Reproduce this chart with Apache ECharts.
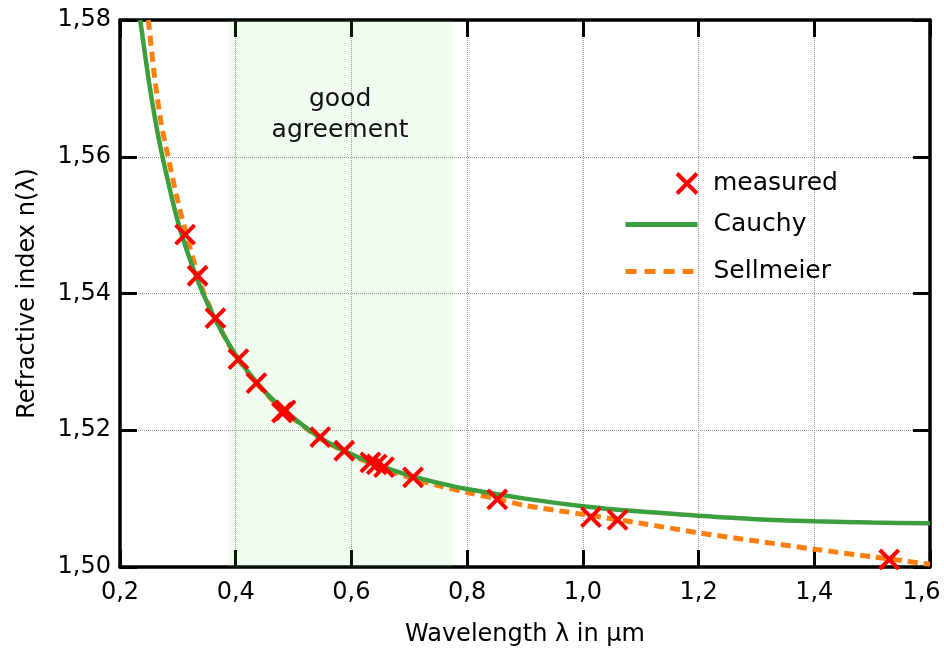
<!DOCTYPE html>
<html>
<head>
<meta charset="utf-8">
<script src="https://cdn.jsdelivr.net/npm/echarts@6/dist/echarts.min.js"></script>
<style>html,body{margin:0;padding:0;background:#fff;}#c{width:944px;height:655px;}</style>
</head>
<body>
<div id="c"></div>
<script>
// Tick labels
const xTickLabels = ['0,2', '0,4', '0,6', '0,8', '1,0', '1,2', '1,4', '1,6'];
const yTickLabels = ['1,50', '1,52', '1,54', '1,56', '1,58'];

// Measured data (wavelength in µm, refractive index)
const measuredWavelength = [0.3126, 0.3341, 0.3650, 0.4047, 0.4358, 0.4800, 0.4861, 0.5461, 0.5876, 0.6328, 0.6438, 0.6563, 0.7065, 0.8521, 1.0140, 1.0600, 1.5296];
const measuredIndex      = [1.5486, 1.5426, 1.5364, 1.5304, 1.5269, 1.5226, 1.5229, 1.5190, 1.5170, 1.5153, 1.5150, 1.5146, 1.5131, 1.5099, 1.5073, 1.5069, 1.5011];

// Cauchy fit curve
const cauchyWavelength = [0.235, 0.250, 0.265, 0.280, 0.300, 0.320, 0.340, 0.360, 0.380, 0.400, 0.430, 0.460, 0.500, 0.550, 0.600, 0.650, 0.700, 0.750, 0.800, 0.900, 1.000, 1.100, 1.200, 1.300, 1.400, 1.500, 1.600];
const cauchyIndex      = [1.5800, 1.5710, 1.5635, 1.5575, 1.5505, 1.5452, 1.5407, 1.5370, 1.5338, 1.5310, 1.5276, 1.5248, 1.5218, 1.5187, 1.5165, 1.5148, 1.5134, 1.5123, 1.5114, 1.5100, 1.5089, 1.5081, 1.5075, 1.5070, 1.5067, 1.5065, 1.5064];

// Sellmeier fit curve
const sellmeierWavelength = [0.249, 0.260, 0.270, 0.280, 0.300, 0.320, 0.340, 0.360, 0.380, 0.400, 0.430, 0.460, 0.500, 0.550, 0.600, 0.650, 0.700, 0.750, 0.800, 0.850, 0.900, 1.000, 1.100, 1.200, 1.300, 1.400, 1.500, 1.600];
const sellmeierIndex      = [1.5800, 1.5715, 1.5655, 1.5612, 1.5535, 1.5470, 1.5412, 1.5371, 1.5338, 1.5309, 1.5275, 1.5247, 1.5217, 1.5186, 1.5164, 1.5146, 1.5131, 1.5119, 1.5109, 1.5100, 1.5090, 1.5077, 1.5064, 1.5050, 1.5038, 1.5026, 1.5015, 1.5004];

// Region of good agreement
const agreementRange = [0.386, 0.775];

const FONT = 'DejaVu Sans';
const zip = (a, b) => a.map((v, i) => [v, b[i]]);

const chart = echarts.init(document.getElementById('c'), null, {renderer: 'canvas'});

const GREEN = '#3d9e3d', ORANGE = '#ff7f0e';
const tickStyle = {show: true, inside: true, length: 17, lineStyle: {color: '#000', width: 3}};
const lineAxis = {show: true, onZero: false, lineStyle: {color: '#000', width: 3.5}};
const markerStyle = {color: 'transparent', borderColor: '#ff0000', borderWidth: 4, opacity: 1};
const hiddenSymbol = {color: 'transparent', borderColor: 'transparent', borderWidth: 0, opacity: 0};

chart.setOption({
  animation: false,
  backgroundColor: '#fff',
  grid: {left: 120, right: 14, top: 20, bottom: 88, outerBoundsMode: 'none', containLabel: false},
  textStyle: {fontFamily: FONT},
  legend: [
    {
      data: [{name: 'measured', itemStyle: markerStyle}],
      orient: 'vertical',
      left: 675, top: 171,
      itemWidth: 20, itemHeight: 20,
      padding: 0,
      textStyle: {fontFamily: FONT, fontSize: 25, color: '#000', padding: [0, 0, 0, 11]}
    },
    {
      data: [
        {name: 'Cauchy', itemStyle: hiddenSymbol, lineStyle: {color: GREEN, width: 5}},
        {name: 'Sellmeier', itemStyle: hiddenSymbol, lineStyle: {color: ORANGE, width: 5, type: [11, 8]}}
      ],
      orient: 'vertical',
      left: 623, top: 212,
      itemWidth: 72, itemHeight: 20, itemGap: 22,
      padding: 0,
      textStyle: {fontFamily: FONT, fontSize: 25, color: '#000', padding: [0, 0, 0, 11]}
    }
  ],
  xAxis: [
    {
      type: 'value', min: 0.2, max: 1.6, interval: 0.2,
      name: 'Wavelength λ in µm', nameLocation: 'middle', nameGap: 56,
      nameTextStyle: {fontFamily: FONT, fontSize: 24, color: '#000'},
      axisLine: lineAxis, axisTick: tickStyle,
      axisLabel: {fontFamily: FONT, fontSize: 24, color: '#000', margin: 14,
        formatter: v => {
          const i = Math.round((v - 0.2) / 0.2);
          return i === xTickLabels.length - 1 ? '{last|' + xTickLabels[i] + '}' : xTickLabels[i];
        },
        rich: {last: {fontFamily: FONT, fontSize: 24, color: '#000', padding: [0, 17, 0, 0]}}},
      splitLine: {show: true, lineStyle: {color: '#9a9a9a', type: 'dotted', width: 1}}
    },
    {
      type: 'value', min: 0.2, max: 1.6, interval: 0.2, position: 'top',
      axisLine: lineAxis, axisTick: tickStyle, axisLabel: {show: false}, splitLine: {show: false}
    }
  ],
  yAxis: [
    {
      type: 'value', min: 1.5, max: 1.58, interval: 0.02,
      name: 'Refractive index n(λ)', nameLocation: 'middle', nameGap: 80,
      nameTextStyle: {fontFamily: FONT, fontSize: 24, color: '#000'},
      axisLine: lineAxis, axisTick: tickStyle,
      axisLabel: {fontFamily: FONT, fontSize: 24, color: '#000', margin: 9,
        formatter: v => yTickLabels[Math.round((v - 1.5) / 0.02)]},
      splitLine: {show: true, lineStyle: {color: '#9a9a9a', type: 'dotted', width: 1}}
    },
    {
      type: 'value', min: 1.5, max: 1.58, interval: 0.02, position: 'right',
      axisLine: lineAxis, axisTick: tickStyle, axisLabel: {show: false}, splitLine: {show: false}
    }
  ],
  series: [
    {
      name: 'Sellmeier', type: 'line',
      data: zip(sellmeierWavelength, sellmeierIndex),
      symbol: 'none', showSymbol: false, smooth: 0.3, clip: true,
      lineStyle: {color: ORANGE, width: 5, type: [10, 6]},
      itemStyle: {color: ORANGE},
      markArea: {
        silent: true,
        itemStyle: {color: 'rgba(100,230,100,0.1)'},
        label: {show: true, position: 'insideTop', distance: 64,
          fontFamily: FONT, fontSize: 25, lineHeight: 31, color: '#111'},
        data: [[{xAxis: agreementRange[0], name: 'good\nagreement'}, {xAxis: agreementRange[1]}]]
      },
      z: 3
    },
    {
      name: 'Cauchy', type: 'line',
      data: zip(cauchyWavelength, cauchyIndex),
      symbol: 'none', showSymbol: false, smooth: 0.3, clip: true,
      lineStyle: {color: GREEN, width: 4.5},
      itemStyle: {color: GREEN},
      z: 4
    },
    {
      name: 'measured', type: 'scatter',
      data: zip(measuredWavelength, measuredIndex),
      symbol: 'path://M0,0L10,10M10,0L0,10',
      symbolSize: 19,
      itemStyle: markerStyle,
      z: 5
    }
  ]
});
</script>
</body>
</html>
